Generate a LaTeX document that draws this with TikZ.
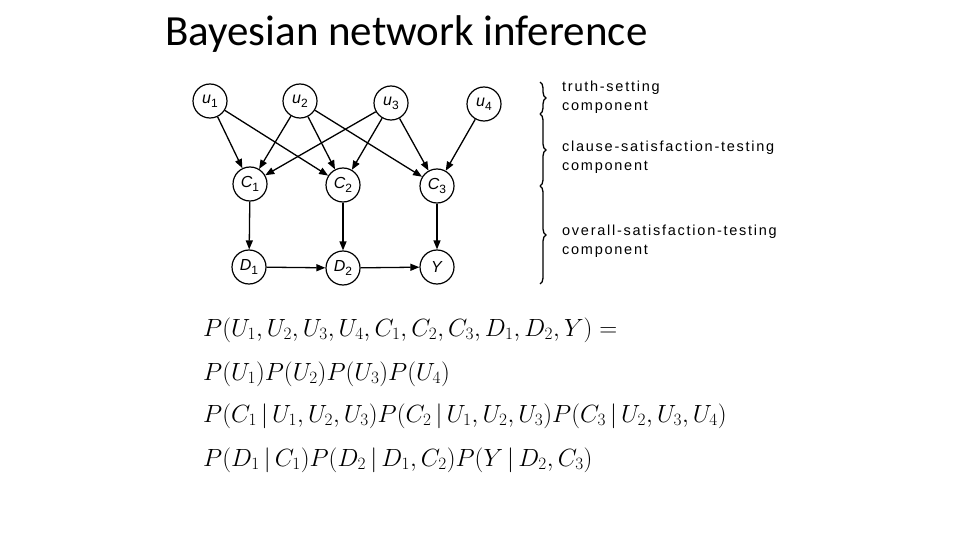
\documentclass[tikz,border=0pt]{standalone}
\usepackage{fontspec}
\setmainfont{Carlito}
\newfontfamily\lab[LetterSpace=12]{Liberation Sans}
\newfontfamily\nlab{Liberation Sans}
\usetikzlibrary{arrows.meta,decorations.pathreplacing}
\newcommand{\vl}[2]{\textit{#1}\raisebox{-4pt}{\fontsize{12}{12}\selectfont #2}}
\begin{document}
\begin{tikzpicture}[x=1pt,y=-1pt,
  vn/.style={circle,draw,line width=1.2pt,minimum size=34pt,inner sep=0pt,font=\nlab\fontsize{16}{16}\selectfont},
  ed/.style={-{Triangle[length=9pt,width=7pt]},line width=1.3pt},
  br/.style={decorate,decoration={brace,amplitude=6pt},line width=1.3pt},
  tx/.style={anchor=west,font=\lab\fontsize{14.5}{15}\selectfont,inner sep=0pt},
  eq/.style={anchor=west,font=\fontsize{24.5}{24}\selectfont,inner sep=0pt}]
\useasboundingbox (0,0) rectangle (960,540);
\node[anchor=west,font=\fontsize{43}{43}\selectfont,inner sep=0pt] (title) at (165,34) {Bayesian network inference};
\node[vn] (u1) at (210,101) {\vl{u}{1}};
\node[vn] (u2) at (300,101) {\vl{u}{2}};
\node[vn] (u3) at (391,103) {\vl{u}{3}};
\node[vn] (u4) at (484,104) {\vl{u}{4}};
\node[vn] (c1) at (250,184) {\vl{C}{1}};
\node[vn] (c2) at (343,185) {\vl{C}{2}};
\node[vn] (c3) at (437,186) {\vl{C}{3}};
\node[vn] (d1) at (249,267) {\vl{D}{1}};
\node[vn] (d2) at (343,268) {\vl{D}{2}};
\node[vn] (y) at (437,267) {\textit{Y}};
\foreach \a/\b in {u1/c1,u1/c2,u2/c1,u2/c2,u2/c3,u3/c1,u3/c2,u3/c3,u4/c3,c1/d1,c2/d2,c3/y,d1/d2,d2/y}
  \draw[ed] (\a) -- (\b);
\coordinate (b1) at (540,82); \coordinate (b2) at (540,114);
\coordinate (b3) at (540,186); \coordinate (b4) at (540,284);
\draw[br] (b1) -- (b2);
\draw[br] (b2) -- (b3);
\draw[br] (b3) -- (b4);
\node[tx] (t1) at (562,88) {truth-setting};
\node[tx] (t2) at (562,107) {component};
\node[tx] (t3) at (562,148) {clause-satisfaction-testing};
\node[tx] (t4) at (562,167) {component};
\node[tx] (t5) at (562,232) {overall-satisfaction-testing};
\node[tx] (t6) at (562,251) {component};
\node[eq] (e1) at (203,330) {$P(U_1,U_2,U_3,U_4,C_1,C_2,C_3,D_1,D_2,Y)=$};
\node[eq] (e2) at (203,374) {$P(U_1)P(U_2)P(U_3)P(U_4)$};
\node[eq] (e3) at (203,416) {$P(C_1\,|\,U_1,U_2,U_3)P(C_2\,|\,U_1,U_2,U_3)P(C_3\,|\,U_2,U_3,U_4)$};
\node[eq] (e4) at (203,460) {$P(D_1\,|\,C_1)P(D_2\,|\,D_1,C_2)P(Y\,|\,D_2,C_3)$};
\end{tikzpicture}
\end{document}
